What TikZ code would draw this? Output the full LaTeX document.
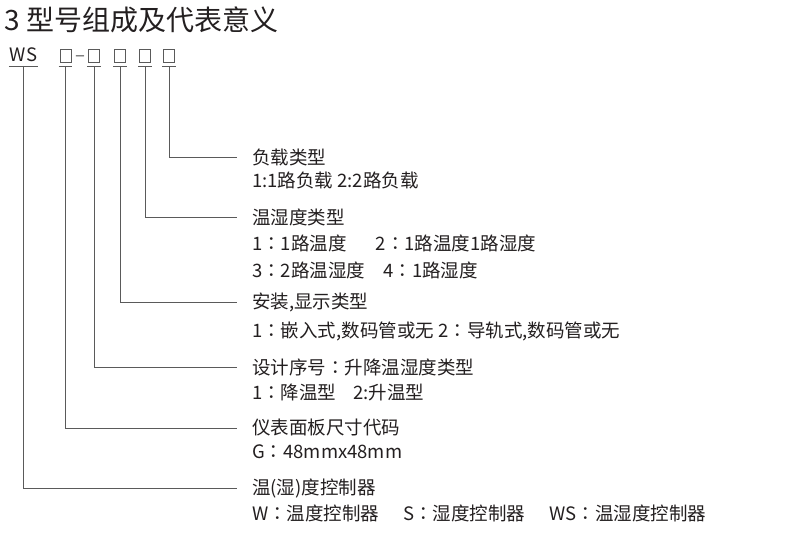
\documentclass[tikz,border=0pt]{standalone}
\usepackage{fontspec}
\setmainfont{Noto Sans CJK SC}
\newfontfamily\tcfont{Noto Sans CJK TC}
\newcommand\cc{{\tcfont ：}}
\usetikzlibrary{positioning}
\definecolor{ink}{HTML}{231F20}
\definecolor{rule}{HTML}{5A5A5A}

\begin{document}
\begin{tikzpicture}[x=1pt,y=-1pt,
  code/.style={draw=rule,line width=0.8pt,minimum width=11pt,minimum height=13pt,inner sep=0pt},
  head/.style={anchor=west,inner sep=0pt,text=ink,font=\fontsize{18.5}{22}\selectfont},
  lead/.style={draw=rule,line width=0.9pt},
  node distance=24pt]
\useasboundingbox (0,0) rectangle (790,540);
\node[head,font=\fontsize{28}{32}\selectfont] (title) at (4,20) {3 型号组成及代表意义};
% model code
\node[head,anchor=south] (ws) at (23.5,62) {W\kern1.5pt S};
\node[code] (b1) at (65.5,55.5) {};
\node[head,anchor=base,text=rule] (dash) at (80.5,62) {–};
\node[code] (b2) at (94,55.5) {};
\node[code] (b3) at (120,55.5) {};
\node[code] (b4) at (145,55.5) {};
\node[code] (b5) at (169,55.5) {};
\draw[lead] ([yshift=-4pt]ws.south west) -- ([yshift=-4pt]ws.south east);
\foreach \b in {b1,b2,b3,b4,b5}
  \draw[lead] ([xshift=-1pt,yshift=-4pt]\b.south west) -- ([xshift=1pt,yshift=-4pt]\b.south east);
% meanings
\node[head] (h5) at (252,157) {负载类型};
\node[head,below=23pt of h5.west,anchor=west] (d5) {1:1路负载 2:2路负载};
\node[head] (h4) at (252,217) {温湿度类型};
\node[head,below=26pt of h4.west,anchor=west] (d4a) {1\cc 1路温度\hspace{29pt}2\cc 1路温度1路湿度};
\node[head,below=27pt of d4a.west,anchor=west] (d4b) {3\cc 2路温湿度\hspace{18pt}4\cc 1路湿度};
\node[head] (h3) at (252,302) {安装,显示类型};
\node[head,below=29pt of h3.west,anchor=west] (d3) {1\cc 嵌入式,数码管或无 2\cc 导轨式,数码管或无};
\node[head] (h2) at (252,367) {设计序号\cc 升降温湿度类型};
\node[head,below=25pt of h2.west,anchor=west] (d2) {1\cc 降温型\hspace{17pt}2:升温型};
\node[head] (h1) at (252,428) {仪表面板尺寸代码};
\node[head,below=24pt of h1.west,anchor=west] (d1) {G\cc 48mmx48mm};
\node[head] (h0) at (252,488) {温(湿)度控制器};
\node[head,below=25pt of h0.west,anchor=west] (d0) {W\cc 温度控制器\hspace{24pt}S\cc 湿度控制器\hspace{24pt}WS\cc 温湿度控制器};
% leaders
\foreach \a/\b in {b5/h5,b4/h4,b3/h3,b2/h2,b1/h1,ws/h0}
  \draw[lead] ([yshift=-4pt]\a.south) |- ([xshift=-15pt]\b.west);
\end{tikzpicture}
\end{document}
